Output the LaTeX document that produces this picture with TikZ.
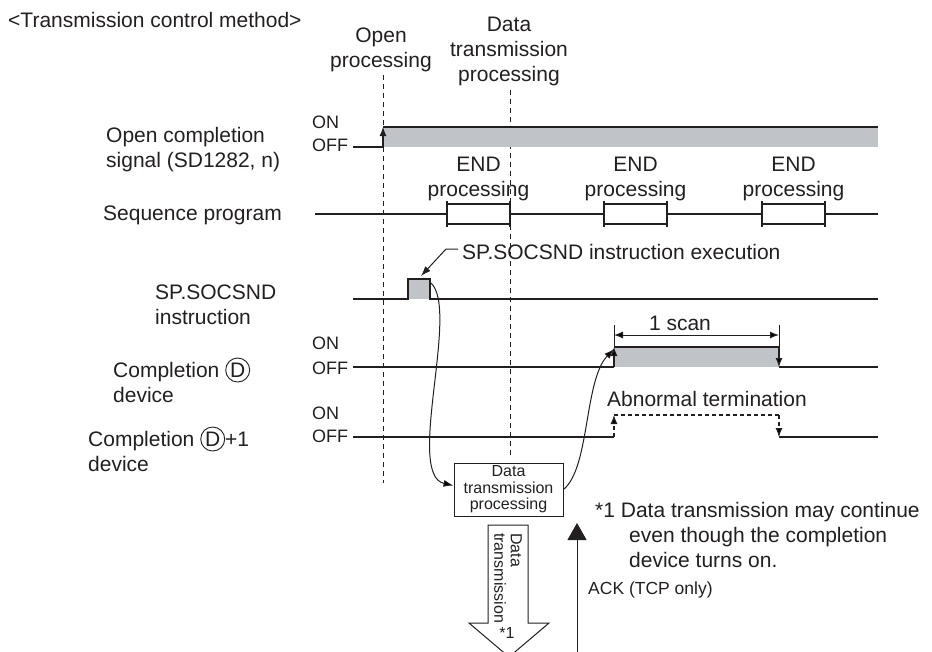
\documentclass[tikz,border=0pt]{standalone}
\usepackage{fontspec}
\setmainfont{Liberation Sans}
\usetikzlibrary{arrows.meta}

\definecolor{ink}{RGB}{35,31,32}
\definecolor{sigfill}{RGB}{192,195,200}

\tikzset{
  lbl/.style={font=\fontsize{21}{25}\selectfont, text=ink, inner sep=0pt, align=left},
  onoff/.style={font=\fontsize{18}{22}\selectfont, text=ink, inner sep=0pt, anchor=west},
  small/.style={font=\fontsize{16}{16.5}\selectfont, text=ink, inner sep=0pt, align=center},
  sig/.style={draw=ink, line width=1.1pt},
  guide/.style={draw=ink, line width=0.9pt, dash pattern=on 5pt off 4pt},
  dsig/.style={draw=ink, line width=1.1pt, dash pattern=on 4pt off 3pt},
  edge/.style={-{Latex[length=9pt,width=7pt]}},
  flow/.style={draw=ink, line width=1pt, -{Latex[length=10pt,width=7pt]}}
}

\newcommand{\circD}{\tikz[baseline=(cd.base)]\node[draw=ink,circle,line width=0.9pt,inner sep=0pt,minimum size=24pt](cd){D};}

\begin{document}
\begin{tikzpicture}[x=1pt,y=-1pt]
    \useasboundingbox (0,0) rectangle (932,651);
    \clip (0,0) rectangle (932,651);

    \newcommand{\OpX}{383}
    \newcommand{\DtX}{510}
    \newcommand{\ScA}{614}
    \newcommand{\ScB}{779}
    \newcommand{\EndX}{878}

    % headings
    \node[lbl, anchor=west] (title) at (8,20) {<Transmission control method>};
    \node[lbl, align=center] (openp) at (381,50) {Open\\processing};
    \node[lbl, align=center] (datap) at (509,51) {Data\\transmission\\processing};
    \draw[guide] (\OpX,75) -- (\OpX,483);
    \draw[guide] (\DtX,90) -- (\DtX,458);

    % open completion signal
    \node[lbl, anchor=west] (opensig) at (106,150) {Open completion\\signal (SD1282, n)};
    \node[onoff] (on1) at (312,122) {ON};
    \node[onoff] (off1) at (312,145) {OFF};
    \fill[sigfill] (\OpX,127) rectangle (\EndX,147);
    \draw[sig, edge] (353,147) -- (\OpX,147) -- (\OpX,127);
    \draw[sig] (\OpX,127) -- (\EndX,127);

    % sequence program
    \node[lbl, anchor=west] (seqlbl) at (103,215) {Sequence program};
    \draw[sig] (315,214) -- (\EndX,214);
    \foreach \a/\b in {447/510, 604/667, 762/825} {
      \fill[white] (\a,204) rectangle (\b,224);
      \draw[sig] (\a,204) -- (\b,204) (\a,224) -- (\b,224)
                 (\a,201) -- (\a,227) (\b,201) -- (\b,227);
      \node[lbl, align=center] (end\a) at ({(\a+\b)/2},179) {END\\processing};
    }

    % SP.SOCSND instruction
    \node[lbl, anchor=west] (soclbl) at (155,305) {SP.SOCSND\\instruction};
    \fill[sigfill] (408,279) rectangle (430,299);
    \draw[sig] (353,299) -- (408,299) -- (408,279) -- (430,279) -- (430,299) -- (\EndX,299);
    \coordinate (pulsetop) at (421,276);
    \coordinate (pulseout) at (431,283);
    \node[lbl, anchor=west] (execlbl) at (462,252) {SP.SOCSND instruction execution};
    \draw[flow] ([xshift=-4pt,yshift=3pt]execlbl.west) -- ++(-12,0) -- (pulsetop);

    % completion device
    \node[lbl, anchor=west] (cmplbl) at (113,380) {Completion \circD\\device};
    \node[onoff] (on2) at (312,343) {ON};
    \node[onoff] (off2) at (312,368) {OFF};
    \fill[sigfill] (\ScA,347) rectangle (\ScB,367);
    \draw[sig] (353,367) -- (\ScA,367);
    \draw[sig, edge] (\ScA,367) -- (\ScA,347);
    \draw[sig] (\ScA,347) -- (\ScB,347);
    \draw[sig, edge] (\ScB,347) -- (\ScB,367);
    \draw[sig] (\ScB,367) -- (\EndX,367);
    \coordinate (cmprise) at (\ScA,349);

    % 1 scan
    \draw[sig, line width=1pt] (\ScA,325) -- (\ScA,347) (\ScB,325) -- (\ScB,347);
    \draw[draw=ink, line width=1pt, {Latex[length=9pt,width=7pt]}-{Latex[length=9pt,width=7pt]}] (\ScA,335) -- (\ScB,335);
    \node[lbl] (scanlbl) at (680,323) {1 scan};

    % completion device +1
    \node[lbl, anchor=west] (errlbl) at (88,449) {Completion \circD+1\\device};
    \node[onoff] (on3) at (312,413) {ON};
    \node[onoff] (off3) at (312,436) {OFF};
    \node[lbl, anchor=west] (abnlbl) at (607,399) {Abnormal termination};
    \draw[sig] (353,437) -- (\ScA,437);
    \draw[dsig, edge] (\ScA,437) -- (\ScA,415);
    \draw[dsig] (\ScA,415) -- (\ScB,415);
    \draw[dsig, edge] (\ScB,415) -- (\ScB,437);
    \draw[sig] (\ScB,437) -- (\EndX,437);

    % data transmission processing
    \node[draw=ink, line width=0.9pt, small, minimum width=109pt, minimum height=53pt] (dtbox) at (508.5,489.5) {Data\\transmission\\processing};
    \draw[flow] (pulseout) .. controls (460,310) and (405,475) .. ([yshift=4pt]dtbox.west);
    \draw[flow] (dtbox.east) .. controls (590,468) and (584,380) .. (cmprise);

    % data transmission arrow
    \draw[ink, line width=1pt, fill=white] (488,525) -- (528,525) -- (528,623) -- (549,623)
      -- (509,657) -- (469,623) -- (488,623) -- cycle;
    \node[small, rotate=-90, anchor=west, align=left] (dtlbl) at (508,533) {Data\\transmission};
    \node[small] (star) at (507,633) {*1};

    % ACK
    \coordinate (ackfoot) at (577,660);
    \coordinate (acktip) at (577,523);
    \draw[ink, line width=1pt, -{Triangle[width=19pt,length=17pt]}] (ackfoot) -- (acktip);
    \node[font=\fontsize{17.5}{21}\selectfont, text=ink, inner sep=0pt, anchor=west] (acklbl) at (588,590) {ACK (TCP only)};

    % note
    \node[lbl, anchor=west] (note1) at (595,512) {*1 Data transmission may continue};
    \node[lbl, anchor=west] (note2) at (629,537) {even though the completion};
    \node[lbl, anchor=west] (note3) at (629,560) {device turns on.};
\end{tikzpicture}
\end{document}
